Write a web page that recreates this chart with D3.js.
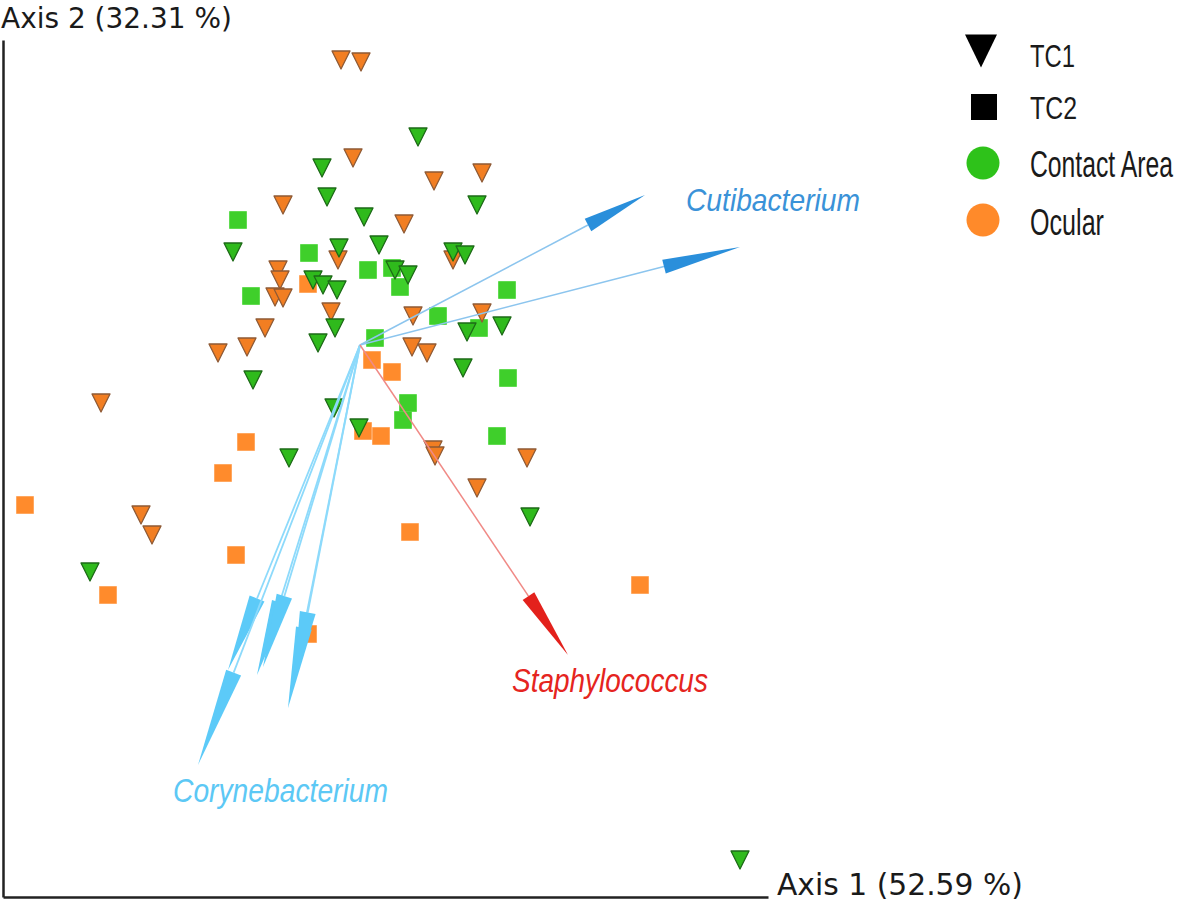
<!DOCTYPE html>
<html><head><meta charset="utf-8">
<script src="https://cdn.jsdelivr.net/npm/d3@7"></script>
<style>body{margin:0;background:#fff} svg{display:block}</style>
</head><body>
<svg id="chart" width="1181" height="903"></svg>
<script>
// ---- data (Axis 1, Axis 2 coordinates) ----
const tc1Ocular = [
  [-0.19,2.85],[0.01,2.83],[-0.07,1.87],[0.74,1.64],[1.22,1.72],[-0.77,1.40],[0.44,1.21],
  [0.93,0.85],[-0.22,0.85],[-0.82,0.75],[-0.80,0.65],[-0.85,0.48],[-0.77,0.47],[-0.29,0.33],
  [0.53,0.29],[1.22,0.32],[-0.95,0.17],[-1.13,-0.02],[-1.42,-0.08],[0.52,-0.02],[0.67,-0.08],
  [0.73,-1.05],[0.75,-1.11],[1.67,-1.13],[1.17,-1.43],[-2.59,-0.58],[-2.19,-1.70],[-2.08,-1.90]
];
const tc1Contact = [
  [0.58,2.08],[-0.38,1.77],[-0.33,1.48],[1.17,1.40],[0.04,1.28],[-1.27,0.93],[-0.21,0.97],
  [0.19,1.00],[0.93,0.93],[1.05,0.90],[0.35,0.75],[0.48,0.70],[-0.47,0.65],[-0.37,0.60],
  [-0.23,0.55],[-0.25,0.17],[-0.42,0.02],[1.07,0.13],[1.42,0.19],[1.03,-0.23],[-1.07,-0.35],
  [-0.26,-0.63],[-0.01,-0.83],[-0.71,-1.13],[1.70,-1.72],[-2.70,-2.27],[3.80,-5.15]
];
const tc2Contact = [
  [-1.22,1.25],[-0.51,0.92],[0.08,0.75],[0.32,0.77],[0.40,0.58],[-1.09,0.49],[1.47,0.55],
  [0.78,0.29],[1.19,0.17],[0.15,0.07],[1.48,-0.33],[0.48,-0.58],[0.43,-0.75],[1.37,-0.91]
];
const tc2Ocular = [
  [-0.52,0.61],[0.12,-0.15],[0.32,-0.27],[0.03,-0.86],[0.21,-0.91],[-1.14,-0.97],[-1.37,-1.28],
  [-3.35,-1.60],[-1.24,-2.10],[-2.52,-2.50],[0.50,-1.87],[2.80,-2.40],[-0.52,-2.89]
];
// biplot arrows (tips)
const cutibacterium = [[2.85,1.50],[3.80,0.98]];
const staphylococcus = [[2.08,-3.10]];
const corynebacterium = [[-1.32,-3.25],[-1.62,-4.20],[-1.03,-3.30],[-0.97,-3.22],[-0.72,-3.63],[-0.67,-3.43]];
const taxonNames = ["Cutibacterium","Staphylococcus","Corynebacterium"];
const taxonLabelAt = [[3.26,1.34],[1.52,-3.47],[-1.87,-4.57]];
const axisTitles = ["Axis 1 (52.59 %)","Axis 2 (32.31 %)"];
const legendLabels = ["TC1","TC2","Contact Area","Ocular"];

// ---- scales ----
const svg = d3.select("#chart");
const x = d3.scaleLinear().domain([-3.57, 4.08]).range([3, 768]);
const y = d3.scaleLinear().domain([-5.52, 3.05]).range([897, 40]);

// axes
svg.append("g").attr("transform", `translate(0,${y(-5.52)})`)
  .call(d3.axisBottom(x).ticks(0).tickSizeOuter(0))
  .call(g => g.select(".domain").attr("stroke", "#222").attr("stroke-width", 2.5));
svg.append("g").attr("transform", `translate(${x(-3.57)},0)`)
  .call(d3.axisLeft(y).ticks(0).tickSizeOuter(0))
  .call(g => g.select(".domain").attr("stroke", "#222").attr("stroke-width", 2.5));

// text fitted to a target width by horizontal scaling
function fitText(parent, str, px, py, opts) {
  const t = parent.append("text").text(str).attr("x", 0).attr("y", 0)
    .attr("font-family", opts.family).attr("font-size", opts.fs).attr("fill", opts.fill)
    .attr("font-style", opts.style || "normal");
  const w = t.node().getComputedTextLength();
  const sx = opts.len / w;
  t.attr("transform", `translate(${px},${py}) scale(${sx},1)`);
  return t;
}

fitText(svg, axisTitles[0], 777, 895, {family: "DejaVu Sans", fs: 30, fill: "#1a1a1a", len: 246});
fitText(svg, axisTitles[1], 1, 28, {family: "DejaVu Sans", fs: 29, fill: "#1a1a1a", len: 231});

// symbols
const triDown = { draw(ctx, size) { const w = Math.sqrt(size); ctx.moveTo(-w/2, -w/2); ctx.lineTo(w/2, -w/2); ctx.lineTo(0, w/2); ctx.closePath(); } };
const triPath = d3.symbol().type(triDown).size(18 * 18)();
const sqPath = d3.symbol().type(d3.symbolSquare).size(17 * 17)();

const pts = svg.append("g");
function drawSet(data, path, fill, stroke, sw) {
  pts.append("g").selectAll("path").data(data).join("path")
    .attr("d", path)
    .attr("transform", d => `translate(${x(d[0])},${y(d[1])})`)
    .attr("fill", fill).attr("stroke", stroke).attr("stroke-width", sw)
    .attr("stroke-linejoin", "round");
}
drawSet(tc2Contact, sqPath, "#3fcf2b", "#52d840", 0.8);
drawSet(tc2Ocular, sqPath, "#ff8b2c", "#ffa050", 0.8);
drawSet(tc1Ocular, triPath, "#f27e22", "#8f5a35", 1.3);
drawSet(tc1Contact, triPath, "#2fba1c", "#1d6a17", 1.3);

// arrows
const ox = x(0), oy = y(0);
function drawArrows(tips, lineColor, headColor, frac, hw, lw) {
  const g = svg.append("g");
  tips.forEach(t => {
    const tx = x(t[0]), ty = y(t[1]);
    const dx = tx - ox, dy = ty - oy, L = Math.hypot(dx, dy);
    const ux = dx / L, uy = dy / L;
    const hl = L * frac;
    const bx = tx - ux * hl, by = ty - uy * hl;
    g.append("line").attr("x1", ox).attr("y1", oy).attr("x2", bx).attr("y2", by)
      .attr("stroke", lineColor).attr("stroke-width", lw);
    g.append("path")
      .attr("d", d3.line()([[tx, ty], [bx - uy * hw, by + ux * hw], [bx + uy * hw, by - ux * hw]]) + "Z")
      .attr("fill", headColor);
  });
}
drawArrows(corynebacterium, "#8ddafb", "#5ccaf8", 0.22, 8, 1.8);
drawArrows(cutibacterium, "#8cc5ee", "#2a8fdb", 0.2, 7, 1.5);
drawArrows(staphylococcus, "#f08a86", "#e3211c", 0.19, 7, 1.5);

const labelStyle = [
  {c: "#3a92d8", fs: 32, len: 174},
  {c: "#e52420", fs: 34, len: 196},
  {c: "#5cc8f5", fs: 34, len: 215}
];
taxonNames.forEach((n, i) => {
  fitText(svg, n, x(taxonLabelAt[i][0]), y(taxonLabelAt[i][1]),
    {family: "Liberation Sans, Arial", fs: labelStyle[i].fs, fill: labelStyle[i].c, style: "italic", len: labelStyle[i].len});
});

// legend
const lg = svg.append("g");
const bigTri = d3.symbol().type(triDown).size(32 * 32)();
lg.append("path").attr("d", bigTri).attr("transform", "translate(981,51) scale(1,1.03)").attr("fill", "#000");
lg.append("path").attr("d", d3.symbol().type(d3.symbolSquare).size(26 * 26)()).attr("transform", "translate(984,107)").attr("fill", "#000");
lg.append("circle").attr("cx", 983).attr("cy", 163).attr("r", 16.5).attr("fill", "#2ec21a");
lg.append("circle").attr("cx", 983).attr("cy", 220).attr("r", 16.5).attr("fill", "#ff8a2a");
const legText = [
  {y: 67, fs: 31, len: 45},
  {y: 119, fs: 31, len: 47},
  {y: 177, fs: 37, len: 143},
  {y: 235, fs: 37, len: 74}
];
legendLabels.forEach((t, i) => {
  fitText(lg, t, 1030, legText[i].y, {family: "Liberation Sans, Arial", fs: legText[i].fs, fill: "#1a1a1a", len: legText[i].len});
});
</script>
</body></html>
